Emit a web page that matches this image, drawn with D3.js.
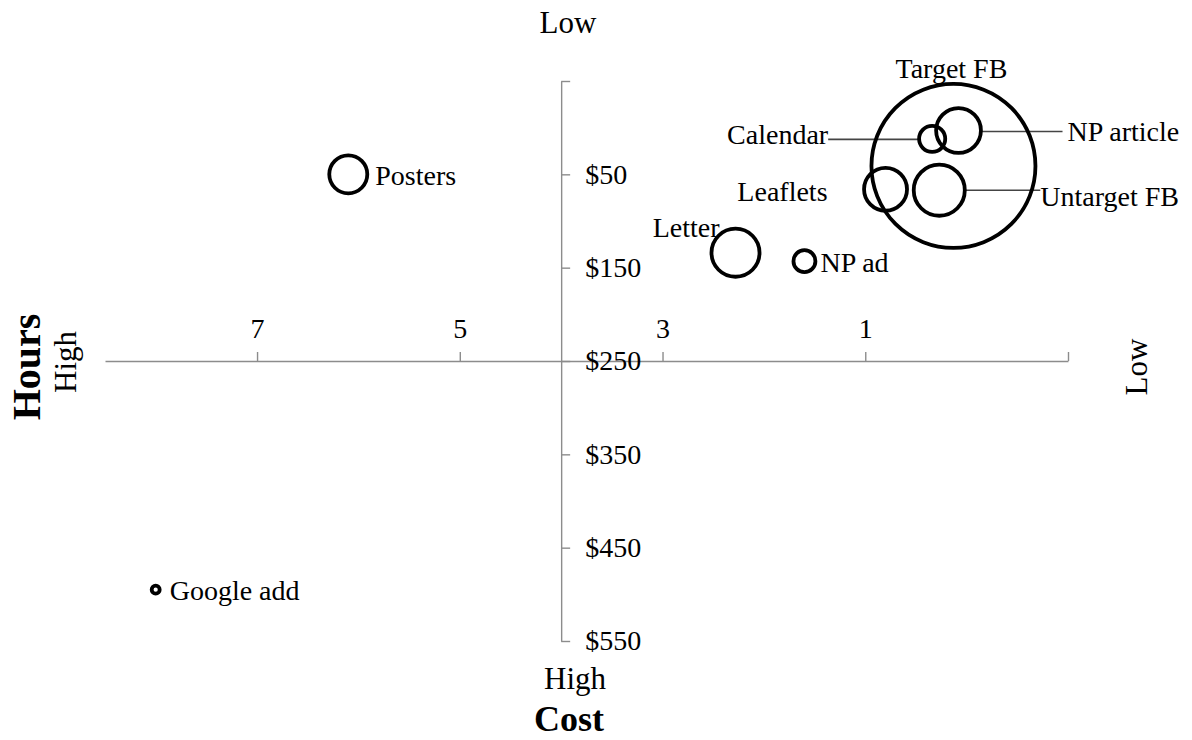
<!DOCTYPE html>
<html lang="en">
<head>
    <meta charset="UTF-8">
    <title>Hours vs Cost bubble chart</title>
    <style>
        body{
            margin:0;
            background:#fff;
        }
        svg text{
            font-family:"Liberation Serif","Times New Roman",serif;
            fill:#000;
        }
        .axis path,
        .axis line{
            fill:none;
            stroke:#8c8c8c;
            stroke-width:1.4;
        }
        .axis text{
            font-size:28px;
        }
        .bubble{
            fill:none;
            stroke:#000;
            stroke-width:3.8;
        }
        .label{
            font-size:28px;
        }
        .leader{
            stroke:#444;
            stroke-width:1.6;
        }
        .side{
            font-size:31px;
        }
        .title{
            font-weight:bold;
        }
    </style>
</head>
<body>
    <svg class="chart" width="1192" height="740"></svg>
    <script src="https://cdnjs.cloudflare.com/ajax/libs/d3/7.8.5/d3.min.js"></script>
    <script>
        // data
        var names  = ["Posters", "Google add", "Letter", "NP ad", "Leaflets", "Untarget FB", "Calendar", "NP article", "Target FB"];
        var hours  = [6.1, 8.0, 2.28, 1.6, 0.8, 0.27, 0.34, 0.08, 0.13];
        var cost   = [50, 495, 134, 143, 66, 67, 12, 3, 41];
        var reach  = [360, 16, 575, 120, 460, 650, 170, 500, 6700];
        var xTicks = [7, 5, 3, 1, -1];
        var yTicks = [-50, 50, 150, 250, 350, 450, 550];

        // label placement in px relative to the bubble centre (anchor, dx, dy, leader?)
        var labelPlace = {
            "Posters":     {anchor:"start",  dx:27,    dy:1},
            "Google add":  {anchor:"start",  dx:14,    dy:1},
            "Letter":      {anchor:"end",    dx:-16,   dy:-26},
            "NP ad":       {anchor:"start",  dx:16,    dy:1},
            "Leaflets":    {anchor:"end",    dx:-58,   dy:2},
            "Untarget FB": {anchor:"start",  dx:101,   dy:6,  leader:[25.5, 101, 0]},
            "Calendar":    {anchor:"end",    dx:-104,  dy:-5, leader:[-13, -104, 0.5]},
            "NP article":  {anchor:"start",  dx:109,   dy:1,  leader:[22.5, 104, 1]},
            "Target FB":   {anchor:"middle", dx:-2,    dy:-98}
        };

        var data = names.map(function(n, i){
            return {name:n, hours:hours[i], cost:cost[i], size:reach[i]};
        });

        var svg = d3.select("svg");

        var x = d3.scaleLinear().domain([8.5, -1]).range([105, 1068]);
        var y = d3.scaleLinear().domain([-50, 550]).range([81, 641]);
        var r = d3.scaleSqrt().domain([0, d3.max(reach)]).range([0, 82]);

        // axes cross at 4 hours / $250
        svg.append("g")
            .attr("class", "x axis")
            .attr("transform", "translate(0," + y(250) + ")")
            .call(d3.axisTop(x).tickValues(xTicks).tickSize(9).tickSizeOuter(0).tickPadding(14)
                .tickFormat(function(d){ return d < 0 ? "" : d; }));

        svg.append("g")
            .attr("class", "y axis")
            .attr("transform", "translate(" + x(4) + ",0)")
            .call(d3.axisRight(y).tickValues(yTicks).tickSize(9).tickSizeOuter(0).tickPadding(15)
                .tickFormat(function(d){ return d < 0 ? "" : "$" + d; }));

        svg.selectAll(".axis .domain").attr("stroke", "#8c8c8c");
        svg.selectAll(".axis .tick line").attr("stroke", "#8c8c8c");
        svg.selectAll(".axis text").attr("font-size", null).attr("font-family", null);

        // leader lines
        svg.selectAll(".leader")
            .data(data.filter(function(d){ return labelPlace[d.name].leader; }))
            .enter().append("line")
            .attr("class", "leader")
            .attr("x1", function(d){ return x(d.hours) + labelPlace[d.name].leader[0]; })
            .attr("x2", function(d){ return x(d.hours) + labelPlace[d.name].leader[1]; })
            .attr("y1", function(d){ return y(d.cost) + labelPlace[d.name].leader[2]; })
            .attr("y2", function(d){ return y(d.cost) + labelPlace[d.name].leader[2]; });

        // bubbles
        svg.selectAll(".bubble")
            .data(data)
            .enter().append("circle")
            .attr("class", "bubble")
            .attr("cx", function(d){ return x(d.hours); })
            .attr("cy", function(d){ return y(d.cost); })
            .attr("r", function(d){ return r(d.size); });

        svg.selectAll(".label")
            .data(data)
            .enter().append("text")
            .attr("class", "label")
            .attr("text-anchor", function(d){ return labelPlace[d.name].anchor; })
            .attr("x", function(d){ return x(d.hours) + labelPlace[d.name].dx; })
            .attr("y", function(d){ return y(d.cost) + labelPlace[d.name].dy; })
            .attr("dy", "0.35em")
            .text(function(d){ return d.name; });

        // end labels
        svg.append("text").attr("class", "side").attr("x", 568).attr("y", 33)
            .attr("text-anchor", "middle").text("Low");
        svg.append("text").attr("class", "side").attr("x", 575).attr("y", 689)
            .attr("text-anchor", "middle").text("High");
        svg.append("text").attr("class", "title").attr("x", 569).attr("y", 731)
            .attr("text-anchor", "middle").attr("font-size", "36px").text("Cost");

        svg.append("text").attr("class", "title")
            .attr("transform", "translate(40,367) rotate(-90)")
            .attr("text-anchor", "middle").attr("font-size", "40px").text("Hours");
        svg.append("text").attr("class", "side")
            .attr("transform", "translate(76,362) rotate(-90)")
            .attr("text-anchor", "middle").text("High");
        svg.append("text").attr("class", "side")
            .attr("transform", "translate(1147,367) rotate(-90)")
            .attr("text-anchor", "middle").text("Low");
    </script>
</body>
</html>
